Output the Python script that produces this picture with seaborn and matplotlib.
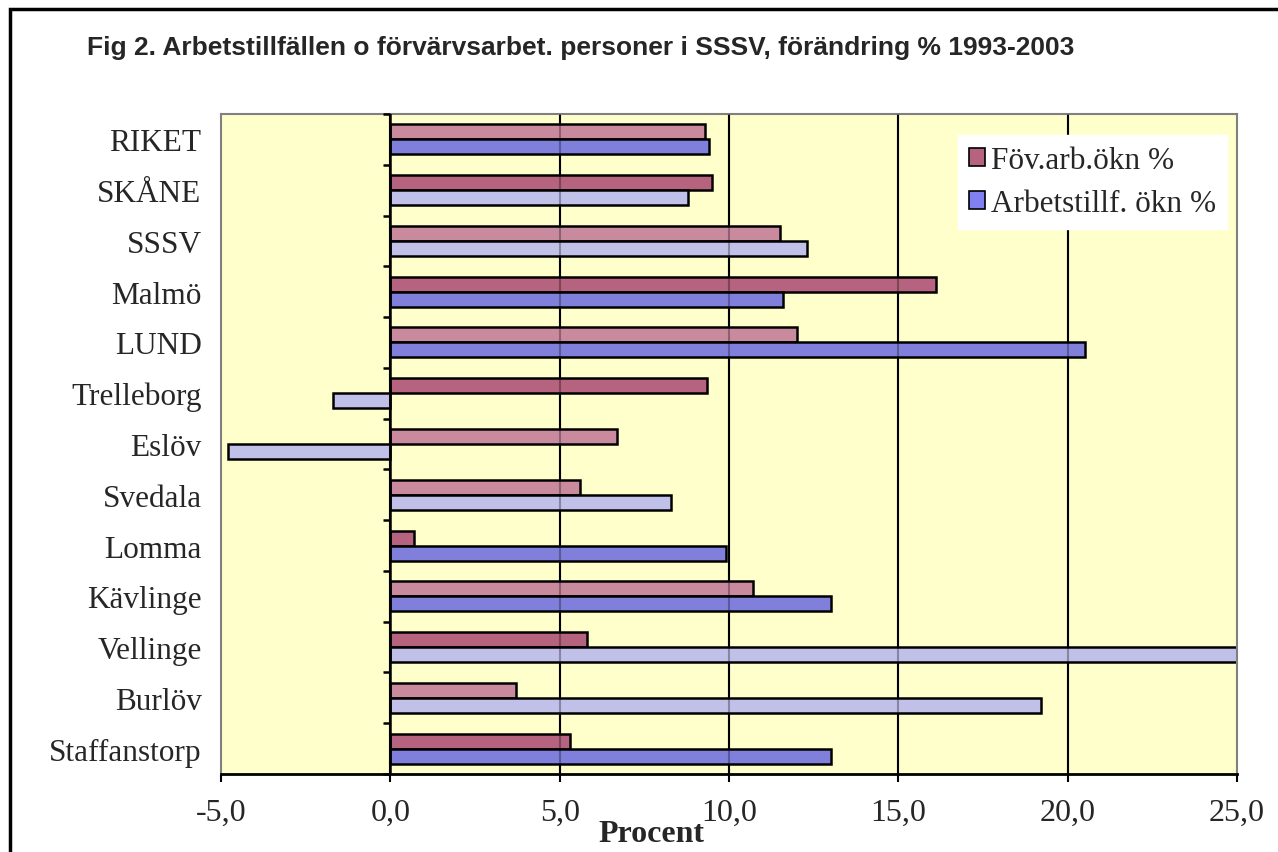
import matplotlib
matplotlib.use("Agg")
import matplotlib.pyplot as plt
import matplotlib.patches as mpatches
import seaborn as sns
import pandas as pd
from matplotlib.ticker import FuncFormatter

categories = ["RIKET", "SKÅNE", "SSSV", "Malmö", "LUND", "Trelleborg", "Eslöv",
              "Svedala", "Lomma", "Kävlinge", "Vellinge", "Burlöv", "Staffanstorp"]
series_names = ["Föv.arb.ökn %", "Arbetstillf. ökn %"]
fov_arb = [9.3, 9.5, 11.5, 16.1, 12.0, 9.35, 6.7, 5.6, 0.7, 10.7, 5.8, 3.7, 5.3]
arbetstillf = [9.4, 8.8, 12.3, 11.6, 20.5, -1.7, -4.8, 8.3, 9.9, 13.0, 25.0, 19.2, 13.0]
x_ticks = [-5, 0, 5, 10, 15, 20, 25]

# per-bar shading as in the original (L = light, D = dark)
pink_shade = ["L", "D", "L", "D", "L", "D", "L", "L", "D", "L", "D", "L", "D"]
blue_shade = ["D", "L", "L", "D", "D", "L", "L", "L", "D", "D", "L", "L", "D"]
pink_col = {"L": "#c98a9e", "D": "#b5637e"}
blue_col = {"L": "#c0c0e8", "D": "#8080dc"}

df = pd.DataFrame({
    "cat": categories * 2,
    "value": fov_arb + arbetstillf,
    "series": [series_names[0]] * len(categories) + [series_names[1]] * len(categories),
})

sns.set_style("white")
plt.rcParams["font.family"] = ["Liberation Serif", "DejaVu Serif"]

W, H = 1278, 853
fig = plt.figure(figsize=(W / 100, H / 100), dpi=100)
fig.patch.set_facecolor("white")
ax = fig.add_axes([221 / W, 1 - 775 / H, (1237 - 221) / W, (775 - 115) / H])
ax.set_facecolor("#ffffcc")

# full gridlines beneath bars
for xv in x_ticks[1:-1]:
    ax.axvline(xv, color="black", lw=1.5, zorder=0.5)

sns.barplot(data=df, y="cat", x="value", hue="series", hue_order=series_names,
            order=categories, orient="h", width=0.59, dodge=True,
            palette=["#b5637e", "#8080dc"], edgecolor="black", linewidth=1.8,
            ax=ax, legend=False, zorder=2)

for i, bar in enumerate(ax.containers[0]):
    bar.set_facecolor(pink_col[pink_shade[i]])
for i, bar in enumerate(ax.containers[1]):
    bar.set_facecolor(blue_col[blue_shade[i]])

# faint gridlines showing through the bars
for xv in x_ticks[1:-1]:
    ax.axvline(xv, color="black", lw=1.5, alpha=0.3, zorder=3)
ax.axvline(0, color="black", lw=1.8, zorder=4)

n = len(categories)
ax.set_xlim(-5, 25)
ax.set_ylim(n - 0.5, -0.5)

# category boundary ticks on the zero axis
bounds = [i - 0.5 for i in range(n + 1)]
ax.hlines(bounds, -0.22, 0, color="black", lw=1.8, zorder=4, clip_on=False)

ax.set_xticks(x_ticks)
ax.xaxis.set_major_formatter(FuncFormatter(lambda v, p: f"{v:.1f}".replace(".", ",")))
ax.tick_params(axis="x", direction="out", length=6, width=1.5, color="black",
               labelsize=23, pad=11, bottom=True)
ax.tick_params(axis="y", length=0, labelsize=22.5, pad=14)
ax.set_xlabel("")
ax.set_ylabel("")

for s in ["top", "right", "left"]:
    ax.spines[s].set_color("#808080")
    ax.spines[s].set_linewidth(1.5)
ax.spines["bottom"].set_color("black")
ax.spines["bottom"].set_linewidth(2)

handles = [mpatches.Patch(facecolor="#b5637e", edgecolor="black", lw=1.2),
           mpatches.Patch(facecolor="#8080f0", edgecolor="black", lw=1.2)]
leg = ax.legend(handles, series_names, loc="upper left",
                bbox_to_anchor=((958 - 221) / (1237 - 221), 1 - (136 - 115) / 660),
                frameon=True, fancybox=False, framealpha=1, facecolor="white",
                edgecolor="white", fontsize=22.5, handlelength=0.5, handleheight=0.5,
                handletextpad=0.2, labelspacing=0.45, borderpad=0.35, borderaxespad=0)
leg.set_zorder(10)

fig.text(651 / W, 1 - 835 / H, "Procent", ha="center", va="center",
         fontsize=23, fontweight="bold")
fig.text(87 / W, 1 - 48 / H,
         "Fig 2. Arbetstillfällen o förvärvsarbet. personer i SSSV, förändring % 1993-2003",
         ha="left", va="center", fontsize=19, fontweight="bold",
         family=["Liberation Sans", "DejaVu Sans"])

# outer frame
frame = mpatches.Rectangle((10 / W, -0.05), 1.1, 1 - 10 / H + 0.05,
                           transform=fig.transFigure, fill=False,
                           edgecolor="black", lw=2.5, clip_on=False)
fig.add_artist(frame)

fig.savefig("out.png", dpi=100)
